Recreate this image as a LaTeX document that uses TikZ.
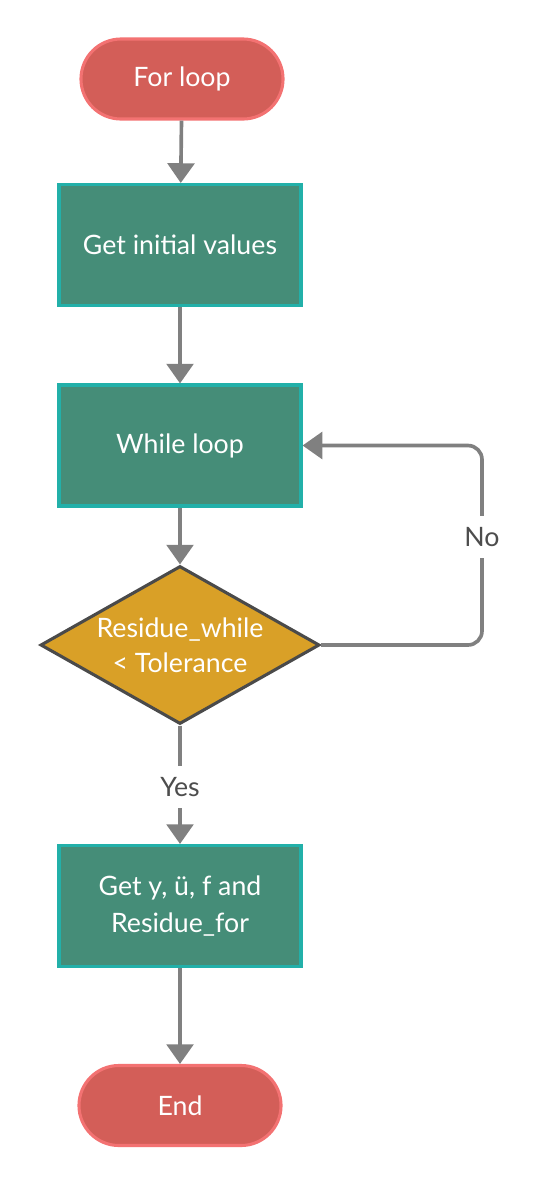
\documentclass[tikz,border=0pt]{standalone}
\usepackage{fontspec}
\setmainfont{Lato}
\usetikzlibrary{shapes.geometric, arrows.meta, positioning}

\definecolor{termfill}{HTML}{D35E58}
\definecolor{termline}{HTML}{F37272}
\definecolor{boxfill}{HTML}{458D78}
\definecolor{boxline}{HTML}{22B0A9}
\definecolor{testfill}{HTML}{D9A027}
\definecolor{testline}{HTML}{4A4A4A}
\definecolor{arrowgray}{HTML}{808080}
\definecolor{labelgray}{HTML}{4D4D4D}

\begin{document}
\begin{tikzpicture}[x=0.025cm, y=-0.025cm,
    terminal/.style={draw=termline, fill=termfill, line width=2.2pt, rounded corners=1cm,
        minimum width=5.05cm, minimum height=2cm, text=white, font=\fontsize{19}{25}\selectfont},
    process/.style={draw=boxline, fill=boxfill, line width=2.2pt, minimum width=6.05cm,
        minimum height=3.025cm, text=white, align=center, font=\fontsize{19}{26}\selectfont},
    decision/.style={diamond, draw=testline, fill=testfill, line width=2.2pt, inner sep=0pt,
        shape aspect=1.77, minimum width=6.975cm, minimum height=3.95cm, text=white,
        align=center, font=\fontsize{19}{25}\selectfont},
    flow/.style={draw=arrowgray, line width=2.6pt, -{Triangle[length=14pt, width=19pt]}},
    edgelabel/.style={fill=white, text=labelgray, inner xsep=2pt, inner ysep=8pt,
        font=\fontsize{19}{23}\selectfont}]
    \useasboundingbox (0, 0) rectangle (541, 1186);

    \node[terminal] (start) at (182, 79) {For loop};
    \node[process] (init) at (180, 245) {Get initial values};
    \node[process] (while) at (180, 445.5) {While loop};
    \node[decision] (test) at (180, 645) {Residue\_while\\< Tolerance};
    \node[process] (result) at (180, 906) {Get y, ü, f and\\Residue\_for};
    \node[terminal] (stop) at (180, 1105.5) {End};
    \coordinate (loopback) at (482, 537);

    \draw[flow] (start) -- (init);
    \draw[flow] (init) -- (while);
    \draw[flow] (while) -- (test);
    \draw[flow] (test) -- (result) node[edgelabel, pos=0.52] {Yes};
    \draw[flow, rounded corners=10pt] (test.east) -| (loopback) |- (while.east);
    \node[edgelabel] at (loopback) {No};
    \draw[flow] (result) -- (stop);

\end{tikzpicture}
\end{document}
